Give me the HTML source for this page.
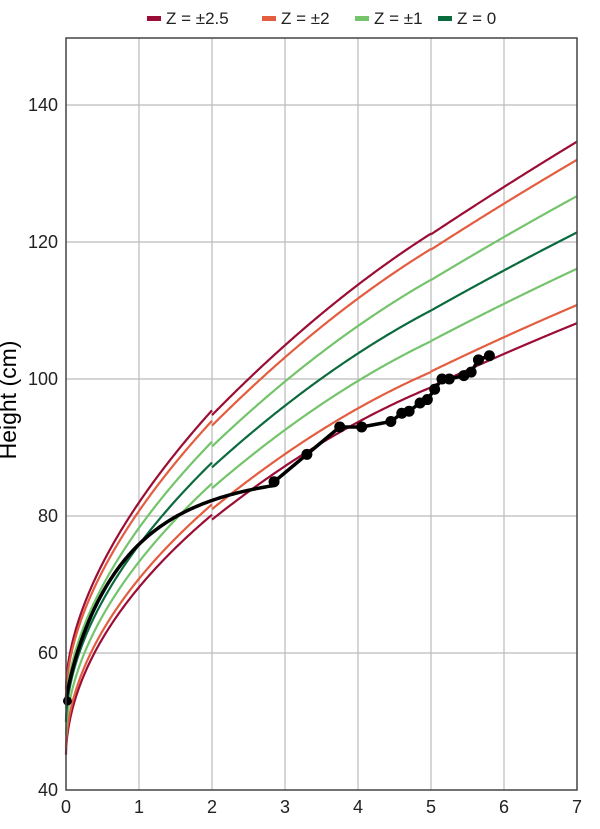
<!DOCTYPE html>
<html><head><meta charset="utf-8"><style>
body{margin:0;background:#fff;width:600px;height:824px;overflow:hidden}
svg{font-family:"Liberation Sans",sans-serif}
</style></head><body>
<svg id="s" width="600" height="824" xmlns="http://www.w3.org/2000/svg">
<g id="grid"></g><g id="curves"></g><g id="child"></g>
<rect x="66" y="38" width="511" height="752" fill="none" stroke="#444" stroke-width="1.5"/>
<text x="8" y="400" font-size="23" text-anchor="middle" transform="rotate(-90 8 400)" dy="8">Height (cm)</text>
<g font-size="17" fill="#222">
<rect x="147" y="16" width="14" height="5" fill="#9b0d35"/><text x="166" y="24">Z = ±2.5</text>
<rect x="262" y="16" width="14" height="5" fill="#e35d40"/><text x="281" y="24">Z = ±2</text>
<rect x="355" y="16" width="14" height="5" fill="#74c46c"/><text x="374" y="24">Z = ±1</text>
<rect x="438" y="16" width="14" height="5" fill="#0b6b3f"/><text x="457" y="24">Z = 0</text>
</g>
</svg>
<script>
const X=t=>66+t*73, Y=v=>790-(v-40)*6.85;
const ns="http://www.w3.org/2000/svg";
function el(p,tag,a,txt){const e=document.createElementNS(ns,tag);for(const k in a)e.setAttribute(k,a[k]);if(txt!=null)e.textContent=txt;document.getElementById(p).appendChild(e);return e;}
for(let i=1;i<7;i++)el("grid","line",{x1:X(i),x2:X(i),y1:38,y2:790,stroke:"#bbb","stroke-width":1.2});
for(let v=60;v<=140;v+=20)el("grid","line",{x1:66,x2:577,y1:Y(v),y2:Y(v),stroke:"#bbb","stroke-width":1.2});
for(let i=0;i<=7;i++)el("grid","text",{x:X(i),y:813,"font-size":18,"text-anchor":"middle",fill:"#222"},i);
for(let v=40;v<=140;v+=20)el("grid","text",{x:58,y:Y(v)+6,"font-size":18,"text-anchor":"end",fill:"#222"},v);
const segs=[
 [0,2,t=>49.9+37.9*Math.pow(t/2,0.55),t=>1.9+1.15*(t/2)],
 [2,5,t=>{const u=t-2;return 87.1+9.683*u-0.683*u*u},t=>3.05+0.48*(t-2)],
 [5,7,t=>{const u=t-5;return 110+6*u-0.15*u*u},t=>4.45+0.425*(t-5)]];
const Zs=[[2.5,"#9b0d35"],[-2.5,"#9b0d35"],[2,"#e35d40"],[-2,"#e35d40"],[1,"#74c46c"],[-1,"#74c46c"],[0,"#0b6b3f"]];
for(const [z,c] of Zs){for(const [t0,t1,M,S] of segs){let d="";
 for(let n=0;n<=150;n++){const t=t0+(t1-t0)*Math.pow(n/150,t0==0?2:1);d+=(n?"L":"M")+X(t).toFixed(2)+","+Y(M(t)+z*S(t)).toFixed(2);}
 el("curves","path",{d:d,fill:"none",stroke:c,"stroke-width":2.2});}}
let d="";for(let n=0;n<=150;n++){const t=2.85*Math.pow(n/150,1.6);d+=(n?"L":"M")+X(t).toFixed(2)+","+Y(53+33.5*(1-Math.exp(-Math.pow(t/0.85,0.85)))).toFixed(2);}
const pts=[[2.85,85],[3.3,89],[3.75,93],[4.05,93],[4.45,93.8],[4.6,95],[4.7,95.3],[4.85,96.5],[4.95,97],[5.05,98.5],[5.15,100],[5.25,100],[5.45,100.5],[5.55,101],[5.65,102.8],[5.8,103.4]];
for(const p of pts)d+="L"+X(p[0]).toFixed(1)+","+Y(p[1]).toFixed(1);
el("child","path",{d:d,fill:"none",stroke:"#000","stroke-width":3.5,"stroke-linejoin":"round"});
el("child","circle",{cx:X(0.02),cy:Y(53),r:4.5,fill:"#000"});
for(const p of pts)el("child","circle",{cx:X(p[0]),cy:Y(p[1]),r:5.5,fill:"#000"});
</script>
</body></html>
